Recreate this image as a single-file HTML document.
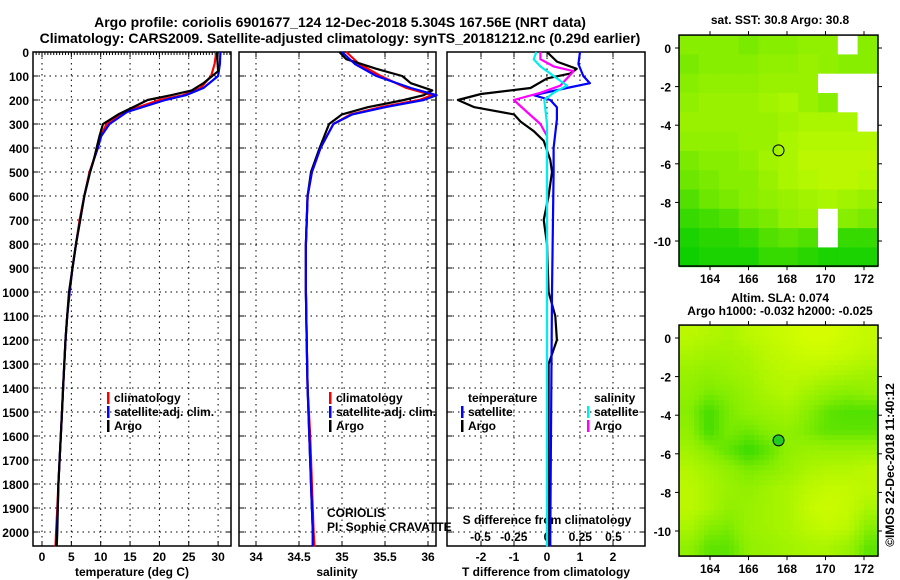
<!DOCTYPE html>
<html><head><meta charset="utf-8">
<style>
html,body{margin:0;padding:0;background:#fff;}
svg{display:block;font-family:"Liberation Sans",sans-serif;}
.b{font-weight:bold;font-size:12px;}
.t{font-weight:bold;font-size:14px;}
</style></head>
<body>
<svg id="c" width="900" height="580" viewBox="0 0 900 580">
<text class="t" x="340" y="27" text-anchor="middle">Argo profile: coriolis 6901677_124 12-Dec-2018 5.304S 167.56E (NRT data)</text>
<text class="t" x="340" y="43" text-anchor="middle">Climatology: CARS2009. Satellite-adjusted climatology: synTS_20181212.nc (0.29d earlier)</text>
</svg>
<script>
// ---- data ----
const depthTicks=[0,100,200,300,400,500,600,700,800,900,1000,1100,1200,1300,1400,1500,1600,1700,1800,1900,2000];
const tempTicks=[0,5,10,15,20,25,30];
const salTicks=[34,34.5,35,35.5,36];
const tdiffTicks=[-2,-1,0,1,2];
const sdiffTicks=[-0.5,-0.25,0,0.25,0.5];
const sdiffLabels=['-0.5','-0.25','0','0.25','0.5'];
const deepDepths=[500,600,700,800,900,1000,1100,1200,1300,1400,1500,1600,1700,1800,1900,2000,2060];
const tArgoD=[0,40,80,100,130,160,180,200,230,260,300,350,400,450].concat(deepDepths);
const tArgo=[29.8,29.9,30.0,29.0,27.5,25.5,22,18.0,15.5,13,10.4,9.8,9.3,8.8,8.2,7.2,6.5,5.8,5.2,4.6,4.3,4.0,3.8,3.6,3.4,3.2,3.0,2.8,2.7,2.6,2.5];
const tClimD=[0,50,100,150,180,200,250,300,350,400,450].concat(deepDepths);
const tClim=[29.7,29.4,28.8,27.0,24.0,20.0,14.0,11.0,10.0,9.5,8.8,8.1,7.2,6.4,5.8,5.2,4.7,4.3,4.0,3.8,3.6,3.4,3.2,3.0,2.8,2.6,2.4,2.3];
const tSat=[30.4,30.3,30.0,27.5,24.5,21.0,14.5,11.5,10.1,9.5,8.8,8.2,7.2,6.5,5.8,5.2,4.7,4.3,4.0,3.8,3.6,3.4,3.2,3.0,2.8,2.7,2.5,2.4];
const sArgoD=[0,30,70,100,130,160,180,200,230,260,300,400,500,600,800,1000,1200,1400,1600,1800,2000,2060];
const sArgo=[34.97,35.05,35.4,35.7,35.8,36.05,35.95,35.72,35.3,35.0,34.85,34.74,34.64,34.6,34.58,34.58,34.59,34.6,34.62,34.64,34.66,34.66];
const sClimD=[0,50,100,150,180,200,230,260,300,400,500,600,800,1000,1200,1400,1600,1800,2000,2060];
const sClim=[35.05,35.2,35.45,35.75,36.05,35.9,35.45,35.1,34.9,34.75,34.65,34.6,34.58,34.58,34.59,34.6,34.63,34.65,34.67,34.68];
const sSat=[35.0,35.15,35.4,35.8,36.1,35.95,35.5,35.12,34.9,34.75,34.65,34.6,34.58,34.58,34.59,34.6,34.62,34.64,34.66,34.66];
const dTArgoD=[0,40,70,90,110,150,175,200,230,260,290,330,370,450,500,600,700,800,1000,1100,1200,1300,1500,2000,2060];
const dTArgo=[0.0,0.3,0.9,0.7,0.0,-0.5,-2.0,-2.7,-2.2,-1.0,-0.8,-0.4,-0.1,0.1,0.15,0.05,-0.1,0,0.05,0.25,0.3,0.05,0.05,0.05,0.05];
const dTSatD=[0,50,100,130,150,180,200,230,280,400,500,1000,2000,2060];
const dTSat=[1.0,0.95,1.1,1.3,0.6,-0.4,0.1,0.3,0.3,0.2,0.2,0.15,0.1,0.1];
const dSArgoD=[0,30,60,80,110,140,170,200,250,300,350,400,2000,2060];
const dSArgo=[-0.05,-0.05,0.05,0.2,0.15,0.1,-0.05,-0.25,-0.15,-0.05,0,0,0,0];
const dSSatD=[0,30,60,100,140,170,200,300,2000,2060];
const dSSat=[-0.08,-0.1,-0.05,0.05,0.15,0.05,-0.02,0,0,0];
const sstGrid=[
[.5,.5,.5,.45,.5,.5,.55,.55,null,.5],
[.45,.5,.5,.5,.55,.55,.6,.55,.5,.5],
[.5,.55,.55,.55,.6,.6,.6,null,null,null],
[.55,.6,.6,.6,.65,.7,.6,.5,null,null],
[.6,.6,.6,.6,.6,.65,.7,.7,.7,null],
[.55,.55,.55,.6,.6,.7,.75,.75,.75,.75],
[.45,.5,.5,.55,.65,.7,.8,.8,.8,.8],
[.4,.45,.5,.5,.6,.7,.75,.8,.8,.75],
[.3,.4,.45,.5,.55,.6,.65,.7,.65,.6],
[.2,.25,.3,.4,.45,.55,.6,null,.5,.45],
[.1,.15,.15,.2,.3,.35,.3,null,.2,.2],
[.05,.1,.1,.1,.2,.2,.15,.1,.1,.1]];
const slaGrid=[
[.8,.75,.7,.8,.85,.9,.95,.95,.9,.85],
[.7,.65,.65,.7,.8,.85,.9,.9,.85,.8],
[.6,.55,.6,.65,.75,.8,.8,.75,.7,.65],
[.55,.45,.5,.6,.7,.75,.65,.55,.5,.55],
[.5,.25,.45,.55,.6,.65,.5,.35,.3,.3],
[.55,.25,.45,.4,.5,.55,.45,.35,.35,.35],
[.65,.5,.35,.2,.35,.55,.6,.6,.6,.6],
[.75,.65,.55,.45,.5,.6,.7,.75,.75,.8],
[.8,.7,.6,.55,.65,.7,.8,.85,.85,.8],
[.8,.7,.55,.6,.65,.7,.85,.9,.85,.7],
[.7,.5,.45,.6,.65,.7,.8,.85,.8,.5],
[.55,.35,.35,.55,.6,.65,.7,.7,.6,.35]];
const latTicks=[0,-2,-4,-6,-8,-10];
const lonTicks=[164,166,168,170,172];
const argoLon=167.56, argoLat=-5.304;

// ---- helpers ----
const SV=document.getElementById('c');const NS='http://www.w3.org/2000/svg';
function mk(tag,at,parent){const e=document.createElementNS(NS,tag);for(const k in at)e.setAttribute(k,at[k]);(parent||SV).appendChild(e);return e;}
function txt(x,y,s,cls,anchor,name){const e=mk('text',{x:x,y:y,'class':cls||'b','text-anchor':anchor||'start'});e.textContent=s;


return e;}
const Y=d=>52+d*0.24;
const P1={l:33,r:231,x:v=>42+v*5.87};
const P2={l:239,r:436,x:v=>256+(v-34)*86};
const P3={l:447,r:645,x:v=>547+v*33};
const SX=v=>547+v*133;
const pTop=52,pBot=546;
function drawLine(xs,ds,fx,colr,name){let p=ds.map((d,i)=>(i?'L':'M')+fx(xs[i]).toFixed(1)+' '+Y(d).toFixed(1)).join('');
const e=mk('path',{d:p,fill:'none',stroke:colr,'stroke-width':2.2,'stroke-linejoin':'round'});

}
function panel(P,ticks,fx,labels,name){
 const g=mk('g',{});
 
 
 depthTicks.forEach(d=>{if(d>0)mk('line',{x1:P.l,x2:P.r,y1:Y(d),y2:Y(d),stroke:'#000','stroke-dasharray':'1.5,4','stroke-width':1},g);
  mk('line',{x1:P.l,x2:P.l+5,y1:Y(d),y2:Y(d),stroke:'#000'},g);mk('line',{x1:P.r-5,x2:P.r,y1:Y(d),y2:Y(d),stroke:'#000'},g);});
 ticks.forEach((t,i)=>{const x=fx(t);mk('line',{x1:x,x2:x,y1:pTop,y2:pBot,stroke:'#000','stroke-dasharray':'1.5,4'},g);
  mk('line',{x1:x,x2:x,y1:pBot-5,y2:pBot,stroke:'#000'},g);mk('line',{x1:x,x2:x,y1:pTop,y2:pTop+5,stroke:'#000'},g);
  if(labels)txt(x,561,labels[i],'b','middle','x-tick-label');});
 mk('rect',{x:P.l,y:pTop,width:P.r-P.l,height:pBot-pTop,fill:'none',stroke:'#000','stroke-width':1.5},g);
}
panel(P1,tempTicks,P1.x,tempTicks.map(String),'temperature-panel');
for(let v=-1;v<=32;v+=0.5){const x=P1.x(v);if(x>P1.l&&x<P1.r)mk('line',{x1:x,x2:x,y1:pTop,y2:pTop+3,stroke:'#000'});}
panel(P2,salTicks,P2.x,salTicks.map(String),'salinity-panel');
panel(P3,tdiffTicks,P3.x,tdiffTicks.map(String),'difference-panel');
depthTicks.forEach(d=>txt(29,Y(d)+5,String(d),'b','end','depth-tick-label'));
txt(132,576,'temperature (deg C)','b','middle','temperature-axis-title');
txt(337,576,'salinity','b','middle','salinity-axis-title');
txt(546,576,'T difference from climatology','b','middle','t-diff-axis-title');
txt(547,524,'S difference from climatology','b','middle','s-diff-axis-title');
sdiffTicks.forEach((v,i)=>txt(SX(v),541,sdiffLabels[i],'b','middle','s-diff-tick-label'));
drawLine(tClim,tClimD,P1.x,'#f00','temp-climatology-line');
drawLine(tSat,tClimD,P1.x,'#00f','temp-satellite-line');
drawLine(tArgo,tArgoD,P1.x,'#000','temp-argo-line');
drawLine(sClim,sClimD,P2.x,'#f00','sal-climatology-line');
drawLine(sArgo,sArgoD,P2.x,'#000','sal-argo-line');
drawLine(sSat,sClimD,P2.x,'#00f','sal-satellite-line');
drawLine(dTArgo,dTArgoD,P3.x,'#000','tdiff-argo-line');
drawLine(dTSat,dTSatD,P3.x,'#00f','tdiff-satellite-line');
drawLine(dSArgo,dSArgoD,SX,'#f0f','sdiff-argo-line');
drawLine(dSSat,dSSatD,SX,'#0ee','sdiff-satellite-line');
function leg(x,y,colr,label){mk('rect',{x:x,y:y-10,width:2.5,height:12,fill:colr});txt(x+7,y,label,'b','start','legend-entry');}
leg(107,402,'#f00','climatology');leg(107,416,'#00f','satellite-adj. clim.');leg(107,430,'#000','Argo');
leg(329,402,'#f00','climatology');leg(329,416,'#00f','satellite-adj. clim.');leg(329,430,'#000','Argo');
txt(468,402,'temperature','b','start','legend-title-temperature');
leg(461,416,'#00f','satellite');leg(461,430,'#000','Argo');
txt(594,402,'salinity','b','start','legend-title-salinity');
leg(587,416,'#0ee','satellite');leg(587,430,'#f0f','Argo');
const c1=txt(327,517,'CORIOLIS','','start','institution-label');c1.setAttribute('style','font-size:12px');
const c2=txt(327,531,'PI: Sophie CRAVATTE','','start','pi-label');c2.setAttribute('style','font-size:12px');
function colour(v){v=Math.max(0,Math.min(1,v));const a=[0,204,0],m=[136,238,0],b=[221,255,0];let c;
 if(v<.5){const t=v/.5;c=a.map((x,i)=>x+(m[i]-x)*t);}else{const t=(v-.5)/.5;c=m.map((x,i)=>x+(b[i]-x)*t);}
 return 'rgb('+c.map(Math.round).join(',')+')';}
function sample(grid,fr,fc){ // bilinear sample of grid at fractional row/col
 const r0=Math.max(0,Math.min(grid.length-1,Math.floor(fr))),r1=Math.min(grid.length-1,r0+1);
 const c0=Math.max(0,Math.min(grid[0].length-1,Math.floor(fc))),c1=Math.min(grid[0].length-1,c0+1);
 const tr=Math.max(0,Math.min(1,fr-r0)),tc=Math.max(0,Math.min(1,fc-c0));
 const g=(r,c)=>grid[r][c];
 return (g(r0,c0)*(1-tc)+g(r0,c1)*tc)*(1-tr)+(g(r1,c0)*(1-tc)+g(r1,c1)*tc)*tr;}
function drawMap(grid,latY0,name,smooth){
 const L=679,R=878,lonX=lo=>710+(lo-164)*19.25,latY=la=>latY0-la*19.3;
 const T=latY(0.67),B=latY(-11.3);
 const g=mk('g',{});
 
 
 if(smooth){
  const step=5;
  for(let y=T;y<B;y+=step)for(let x=L;x<R;x+=step){
   const fc=((x+step/2-L)/(R-L))*grid[0].length-0.5, fr=((y+step/2-T)/(B-T))*grid.length-0.5;
   const cell=mk('rect',{x:x.toFixed(1),y:y.toFixed(1),width:Math.min(step+0.5,R-x),height:Math.min(step+0.5,B-y),fill:colour(sample(grid,fr,fc))},g);
   
   }
 } else {
 grid.forEach((row,r)=>row.forEach((v,c)=>{const x0=lonX(162.4+c*1.03),x1=lonX(162.4+(c+1)*1.03);const ya=latY(0.67-r*1.0),yb=latY(0.67-(r+1)*1.0);
  const cell=mk('rect',{x:x0.toFixed(1),y:ya.toFixed(1),width:(x1-x0+0.5).toFixed(1),height:(yb-ya+0.5).toFixed(1),fill:v===null?'#fff':colour(v)},g);
  
  }));
 }
 mk('rect',{x:L,y:T,width:R-L,height:B-T,fill:'none',stroke:'#000','stroke-width':1.5},g);
 latTicks.forEach(la=>{const y=latY(la);mk('line',{x1:L-4,x2:L,y1:y,y2:y,stroke:'#000'},g);mk('line',{x1:R,x2:R+4,y1:y,y2:y,stroke:'#000'},g);txt(L-8,y+5,String(la),'b','end','lat-tick-label');});
 lonTicks.forEach(lo=>{const x=lonX(lo);mk('line',{x1:x,x2:x,y1:T-4,y2:T,stroke:'#000'},g);mk('line',{x1:x,x2:x,y1:B,y2:B+4,stroke:'#000'},g);txt(x,B+17,String(lo),'b','middle','lon-tick-label');});
 const m=mk('circle',{cx:lonX(argoLon),cy:latY(argoLat),r:5.5,fill:name==='sla-map'?'#2c2':'none',stroke:'#000','stroke-width':1},g);
 
 
}
drawMap(sstGrid,48,'sst-map',false);
drawMap(slaGrid,338,'sla-map',true);
txt(780,24,'sat. SST: 30.8 Argo: 30.8','b','middle','sst-map-title');
txt(780,302,'Altim. SLA: 0.074','b','middle','sla-map-title');
txt(780,315,'Argo h1000: -0.032 h2000: -0.025','b','middle','sla-map-subtitle');
const cr=txt(0,0,'©IMOS 22-Dec-2018 11:40:12','','middle','copyright-timestamp');
cr.setAttribute('style','font-size:12px');cr.setAttribute('transform','translate(894,465) rotate(-90)');
</script>
</body></html>
